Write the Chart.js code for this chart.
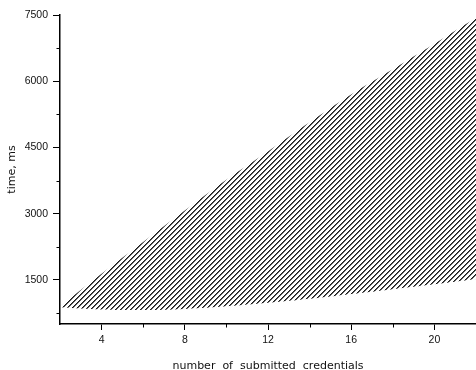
<!DOCTYPE html>
<html>
<head>
<meta charset="utf-8">
<script src="https://cdn.jsdelivr.net/npm/chart.js@4.4.1/dist/chart.umd.min.js"></script>
<style>
  html, body { margin: 0; padding: 0; background: #fff; }
  #chart { display: block; }
</style>
</head>
<body>
<canvas id="chart" width="476" height="370"></canvas>
<script>
// Number of submitted credentials and the edges of the time band (ms)
const credentials = [2, 4, 6, 8, 10, 12, 14, 16, 18, 20, 22];
const upperTime = [900, 1640, 2360, 3070, 3770, 4410, 5070, 5700, 6270, 6850, 7440];
const lowerTime = [880, 830, 815, 840, 900, 980, 1070, 1180, 1290, 1400, 1520];

// Tick values
const xMajorTicks = [4, 8, 12, 16, 20];
const xMinorTicks = [6, 10, 14, 18];
const yMajorTicks = [1500, 3000, 4500, 6000, 7500];
const yMinorTicks = [750, 2250, 3750, 5250, 6750];

// Diagonal hatch fill
function makeHatch() {
  const size = 5;
  const c = document.createElement("canvas");
  c.width = size;
  c.height = size;
  const g = c.getContext("2d");
  for (let i = 0; i < size; i++) {
    g.fillStyle = "#1a1a1a";
    g.fillRect(i, size - 1 - i, 1, 1);
    g.fillStyle = "#606060";
    g.fillRect((i + 1) % size, size - 1 - i, 1, 1);
  }
  return g.createPattern(c, "repeat");
}

// Short minor ticks on both axes
const minorTicks = {
  id: "minorTicks",
  afterDraw(chart) {
    const { ctx, scales: { x, y } } = chart;
    ctx.save();
    ctx.strokeStyle = "#000";
    ctx.lineWidth = 1;
    ctx.beginPath();
    xMinorTicks.forEach(v => {
      const px = Math.round(x.getPixelForValue(v)) + 0.5;
      ctx.moveTo(px, x.top);
      ctx.lineTo(px, x.top + 3.5);
    });
    yMinorTicks.forEach(v => {
      const py = Math.round(y.getPixelForValue(v)) + 0.5;
      ctx.moveTo(y.right, py);
      ctx.lineTo(y.right - 3.5, py);
    });
    ctx.stroke();
    ctx.restore();
  }
};

const tickFont = { family: "Liberation Sans, Arial, sans-serif", size: 10.5 };
const titleFont = { family: "DejaVu Sans, Verdana, sans-serif", size: 11 };

const toPoints = values => credentials.map((c, i) => ({ x: c, y: values[i] }));

new Chart(document.getElementById("chart").getContext("2d"), {
  type: "line",
  data: {
    datasets: [
      {
        data: toPoints(lowerTime),
        borderWidth: 0,
        borderColor: "transparent",
        pointRadius: 0,
        tension: 0.4,
        fill: false
      },
      {
        data: toPoints(upperTime),
        borderWidth: 0,
        borderColor: "transparent",
        pointRadius: 0,
        tension: 0.4,
        fill: "-1",
        backgroundColor: makeHatch()
      }
    ]
  },
  options: {
    responsive: false,
    animation: false,
    layout: { padding: { top: 15, right: 0, bottom: 0, left: 0 } },
    plugins: {
      legend: { display: false },
      tooltip: { enabled: false }
    },
    scales: {
      x: {
        type: "linear",
        min: 2,
        max: 22,
        afterBuildTicks: s => { s.ticks = xMajorTicks.map(v => ({ value: v })); },
        afterFit: s => { s.height = 46; },
        grid: { display: true, drawOnChartArea: false, drawTicks: true, tickLength: 6, tickColor: "#000", lineWidth: 1 },
        border: { display: true, color: "#000", width: 1.5 },
        ticks: { color: "#111", font: tickFont, padding: 4, maxRotation: 0, autoSkip: false, callback: v => String(v) },
        title: {
          display: true,
          text: "number  of  submitted  credentials",
          color: "#111",
          font: titleFont,
          padding: { top: 0, bottom: -3 }
        }
      },
      y: {
        type: "linear",
        min: 500,
        max: 7500,
        afterBuildTicks: s => { s.ticks = yMajorTicks.map(v => ({ value: v })); },
        afterFit: s => { s.width = 60; },
        grid: { display: true, drawOnChartArea: false, drawTicks: true, tickLength: 7, tickColor: "#000", lineWidth: 1 },
        border: { display: true, color: "#000", width: 1.5 },
        ticks: { color: "#111", font: tickFont, padding: 5, autoSkip: false, callback: v => String(v) },
        title: {
          display: true,
          text: "time, ms",
          color: "#111",
          font: titleFont,
          padding: { top: 6, bottom: 0 }
        }
      }
    }
  },
  plugins: [minorTicks]
});
</script>
</body>
</html>
